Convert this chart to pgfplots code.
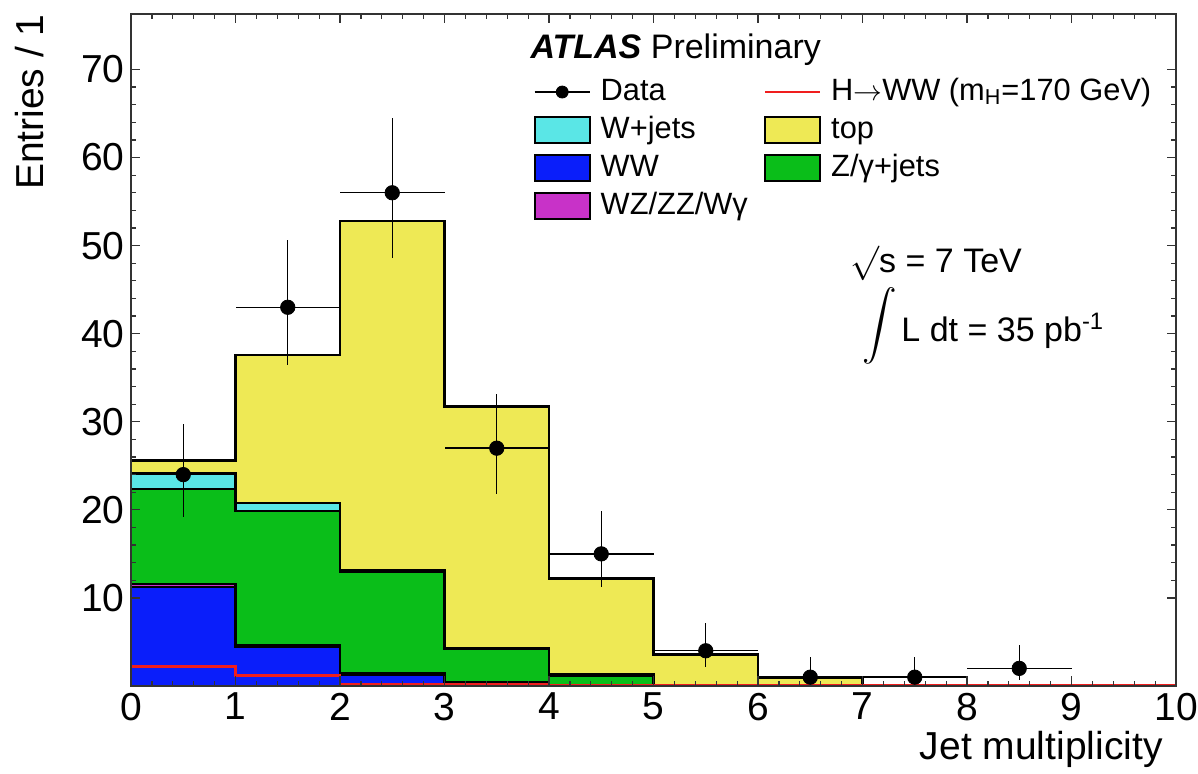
\documentclass[border=0pt]{standalone}
\usepackage{amsmath}
\usepackage{pgfplots}
\pgfplotsset{compat=1.18}
\usepackage{fontspec}
\setmainfont{Liberation Sans}
\definecolor{cyellow}{RGB}{238,233,85}
\definecolor{ccyan}{RGB}{90,230,230}
\definecolor{cgreen}{RGB}{10,190,25}
\definecolor{cblue}{RGB}{10,30,250}
\definecolor{cmag}{RGB}{200,50,200}
\definecolor{cred}{RGB}{240,30,30}
\newcommand{\boximg}[1]{\draw[fill=#1, draw=black, line width=1pt] (0pt,-6.5pt) rectangle (27.5pt,6.5pt);}
\begin{document}
\begin{tikzpicture}
\begin{axis}[
  at={(0,0)}, anchor=south west, scale only axis,
  width=522.5pt, height=336pt,
  xmin=0, xmax=10, ymin=0, ymax=76.3,
  xtick={0,...,10}, ytick={10,20,...,70},
  minor x tick num=4, minor y tick num=4,
  tick align=inside, tick pos=both,
  major tick length=4.75pt, minor tick length=2.4pt,
  axis line style={line width=0.6pt, black!80},
  every tick/.style={line width=0.6pt, black!80},
  axis on top,
  /pgf/number format/assume math mode=true,
  ticklabel style={font=\fontsize{19.5}{22}\selectfont},
  yticklabel style={inner xsep=3pt},
  xlabel={Jet multiplicity}, ylabel={Entries / 1},
  label style={font=\fontsize{19.5}{22}\selectfont, inner sep=0pt},
  xlabel style={at={(axis description cs:0.9876,-0.067)}, anchor=north east},
  ylabel style={at={(axis description cs:-0.111,1.0)}, anchor=north east},
  legend columns=2,
  legend cell align=left,
  legend style={draw=none, fill=none, inner sep=0pt,
    at={(axis cs:3.85,69.3)}, anchor=north west,
    font=\fontsize{15.4}{18}\selectfont,
    nodes={inner sep=0pt, text height=12pt, text depth=4pt},
    row sep=3pt,
    /tikz/every odd column/.append style={column sep=5pt},
    /tikz/every even column/.append style={column sep=8pt}},
]
% stacked histogram (cumulative), top-most first
\addplot[const plot, fill=cyellow, draw=black, line width=1.3pt, forget plot] coordinates {
 (0,25.6) (1,37.6) (2,52.8) (3,31.7) (4,12.2) (5,3.6) (6,0.9) (7,0.1) (8,0.05) (9,0.05) (10,0.05)} \closedcycle;
\addplot[const plot, fill=ccyan, draw=black, line width=1.1pt, forget plot] coordinates {
 (0,24.2) (1,20.8) (2,13.2) (3,4.3) (4,1.3) (5,0.15) (6,0.08) (7,0.05) (8,0.03) (9,0.03) (10,0.03)} \closedcycle;
\addplot[const plot, fill=cgreen, draw=black, line width=1.1pt, forget plot] coordinates {
 (0,22.4) (1,19.9) (2,13.0) (3,4.2) (4,1.2) (5,0.1) (6,0.05) (7,0.03) (8,0.02) (9,0.02) (10,0.02)} \closedcycle;
\addplot[const plot, fill=cmag, draw=black, line width=1.1pt, forget plot] coordinates {
 (0,11.6) (1,4.7) (2,1.5) (3,0.4) (4,0.1) (5,0.05) (6,0.02) (7,0.01) (8,0.01) (9,0.01) (10,0.01)} \closedcycle;
\addplot[const plot, fill=cblue, draw=black, line width=1.1pt, forget plot] coordinates {
 (0,11.2) (1,4.4) (2,1.3) (3,0.3) (4,0.05) (5,0.03) (6,0.01) (7,0.01) (8,0.01) (9,0.01) (10,0.01)} \closedcycle;
% signal
\addplot[const plot, draw=cred, line width=1.2pt, forget plot] coordinates {
 (0,2.2) (1,1.2) (2,0.25) (3,0.15) (4,0.12) (5,0.12) (6,0.12) (7,0.12) (8,0.12) (9,0.12) (10,0.12)};
% data
\addplot[only marks, mark=*, mark size=3.6pt, black, forget plot,
  error bars/.cd, x dir=both, x explicit, y dir=both, y explicit,
  error mark=none, error bar style={line width=0.7pt, black}] coordinates {
 (0.5,24) += (0.5,5.8) -= (0.5,4.8)
 (1.5,43) += (0.5,7.6) -= (0.5,6.5)
 (2.5,56) += (0.5,8.5) -= (0.5,7.4)
 (3.5,27) += (0.5,6.2) -= (0.5,5.2)
 (4.5,15) += (0.5,4.9) -= (0.5,3.8)
 (5.5,4) += (0.5,3.2) -= (0.5,1.9)
 (6.5,1) += (0.5,2.3) -= (0.5,0.8)
 (7.5,1) += (0.5,2.3) -= (0.5,0.8)
 (8.5,2) += (0.5,2.6) -= (0.5,1.3)
};
% legend
\addlegendimage{legend image code/.code={\draw[black, line width=1pt] (0pt,0pt) -- (27.5pt,0pt); \fill[black] (13.75pt,0pt) circle (3pt);}}
\addlegendentry{Data}
\addlegendimage{legend image code/.code={\draw[line width=1.2pt, color=cred] (0pt,0pt) -- (27.5pt,0pt);}}
\addlegendentry{H$\rightarrow$WW (m\textsubscript{H}=170 GeV)}
\addlegendimage{legend image code/.code={\boximg{ccyan}}}
\addlegendentry{W+jets}
\addlegendimage{legend image code/.code={\boximg{cyellow}}}
\addlegendentry{top}
\addlegendimage{legend image code/.code={\boximg{cblue}}}
\addlegendentry{WW}
\addlegendimage{legend image code/.code={\boximg{cgreen}}}
\addlegendentry{Z/γ+jets}
\addlegendimage{legend image code/.code={\boximg{cmag}}}
\addlegendentry{WZ/ZZ/Wγ}
% annotations
\node[anchor=base west, inner sep=0pt, font=\fontsize{17}{20}\selectfont] at (axis cs:3.82,71.3) {\textbf{\textit{ATLAS}} Preliminary};
\node[anchor=base west, inner sep=0pt, font=\fontsize{17}{20}\selectfont] at (axis cs:6.88,47.0) {$\surd$s = 7 TeV};
\node[anchor=base west, inner sep=0pt, font=\fontsize{17}{20}\selectfont] at (axis cs:7.0,39.06) {\raisebox{3.5pt}{\fontsize{19}{19}\selectfont$\displaystyle\int$}\hspace{2pt}L dt = 35 pb\textsuperscript{-1}};
\end{axis}
\pgfresetboundingbox
\path (-65.5pt,-44pt) rectangle (533.5pt,343pt);
\end{tikzpicture}
\end{document}
